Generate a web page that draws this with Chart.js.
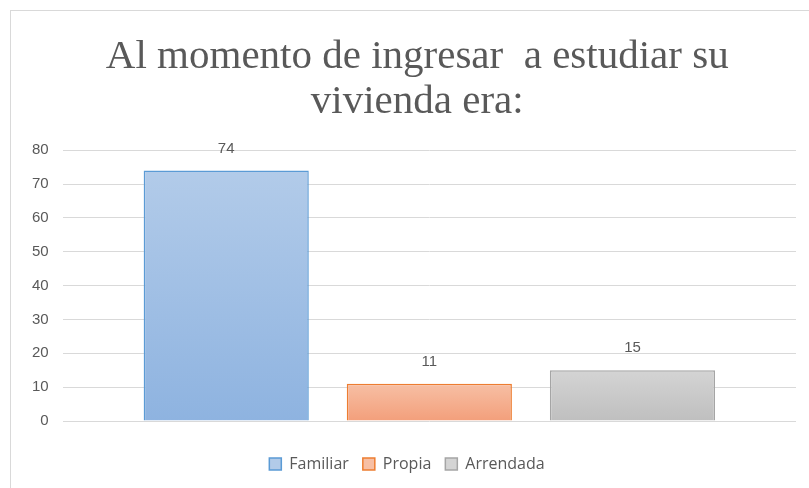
<!DOCTYPE html>
<html>
<head>
<meta charset="utf-8">
<script src="https://cdn.jsdelivr.net/npm/chart.js@4/dist/chart.umd.min.js"></script>
<style>
  html, body { margin: 0; padding: 0; background: #fff; overflow: hidden; }
  #box { position: absolute; left: 10px; top: 10px; width: 820px; height: 500px; border: 1px solid #d9d9d9; background: #fff; }
  #box canvas { display: block; }
</style>
</head>
<body>
<div id="box"><canvas id="chart" width="798" height="477"></canvas></div>
<script>
// datos del gráfico
const categorias = ["Familiar", "Propia", "Arrendada"];
const valores = [74, 11, 15];
const ticksY = [0, 10, 20, 30, 40, 50, 60, 70, 80];

// colores (arriba, abajo, borde)
const colores = [
  ["#b2cbe9", "#8eb3e0", "#5b9bd5"],
  ["#f7bfa4", "#f39f7b", "#ed7d31"],
  ["#d4d4d4", "#bfbfbf", "#a5a5a5"]
];

function degradado(ctx, i) {
  const chart = ctx.chart;
  const y = chart.scales && chart.scales.y;
  if (!chart.chartArea || !y) return colores[i][1];
  const top = y.getPixelForValue(valores[i]);
  const bottom = y.getPixelForValue(0);
  const g = chart.ctx.createLinearGradient(0, top, 0, bottom);
  g.addColorStop(0, colores[i][0]);
  g.addColorStop(1, colores[i][1]);
  return g;
}

const etiquetas = {
  id: "etiquetas",
  afterDatasetsDraw(chart) {
    const ctx = chart.ctx;
    ctx.save();
    ctx.font = "15px 'Liberation Sans', Arial, sans-serif";
    ctx.fillStyle = "#595959";
    ctx.textAlign = "center";
    ctx.textBaseline = "middle";
    chart.data.datasets.forEach((ds, i) => {
      const bar = chart.getDatasetMeta(i).data[0];
      ctx.fillText(String(ds.data[0]), bar.x, bar.y - 22);
    });
    ctx.restore();
  }
};

new Chart(document.getElementById("chart"), {
  type: "bar",
  data: {
    labels: [""],
    datasets: categorias.map((c, i) => ({
      label: c,
      data: [valores[i]],
      backgroundColor: (ctx) => degradado(ctx, i),
      borderColor: colores[i][2],
      borderWidth: 1.5,
      categoryPercentage: 0.831,
      barPercentage: 0.813
    }))
  },
  options: {
    responsive: false,
    animation: false,
    layout: { padding: { left: 7, right: 13, top: 0, bottom: 6 } },
    plugins: {
      title: {
        display: true,
        text: ["  Al momento de ingresar  a estudiar su", "  vivienda era:"],
        color: "#595959",
        font: { family: "'Liberation Serif', 'Times New Roman', serif", size: 41, weight: "normal", lineHeight: 1.1 },
        padding: { top: 24, bottom: 25 }
      },
      legend: {
        position: "bottom",
        labels: {
          color: "#595959",
          font: { family: "'Open Sans', sans-serif", size: 16 },
          boxWidth: 12,
          boxHeight: 12,
          padding: 14,
          generateLabels(chart) {
            return categorias.map((c, i) => ({
              text: c,
              fillStyle: colores[i][0],
              strokeStyle: colores[i][2],
              lineWidth: 1.5,
              datasetIndex: i,
              fontColor: "#595959"
            }));
          }
        }
      },
      tooltip: { enabled: false }
    },
    scales: {
      x: {
        grid: { display: false },
        border: { display: false },
        ticks: { display: false },
        afterFit(scale) { scale.height = 21; }
      },
      y: {
        min: 0,
        max: 80,
        afterBuildTicks(scale) { scale.ticks = ticksY.map(v => ({ value: v })); },
        grid: { color: "#d9d9d9", lineWidth: 1, drawTicks: false },
        border: { display: false },
        ticks: {
          color: "#595959",
          padding: 14,
          font: { family: "'Liberation Sans', Arial, sans-serif", size: 15 }
        }
      }
    }
  },
  plugins: [etiquetas]
});
</script>
</body>
</html>
